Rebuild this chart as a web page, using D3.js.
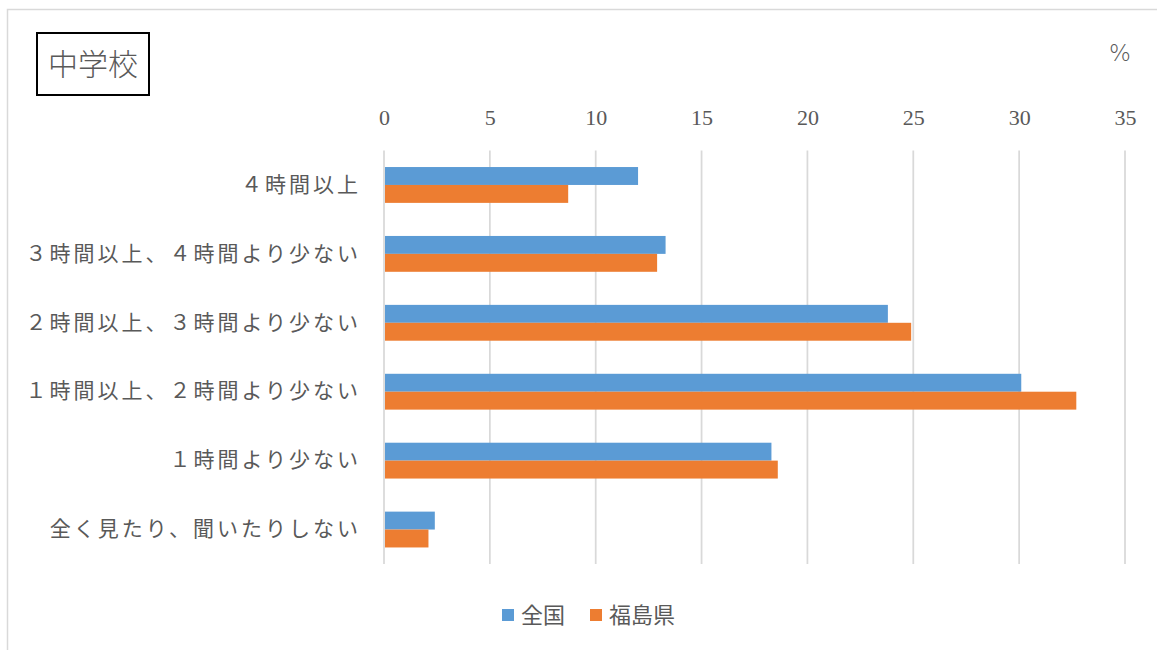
<!DOCTYPE html>
<html lang="ja">
<head>
<meta charset="utf-8">
<script src="https://cdn.jsdelivr.net/npm/d3@7"></script>
<style>
  html, body { margin: 0; padding: 0; background: #fff; }
  svg { display: block; }
  text { font-family: "Liberation Serif", "Noto Sans CJK JP", serif; fill: #595959; }
</style>
</head>
<body>
<svg id="chart" width="1157" height="650"></svg>
<script>
// 視聴時間の区分（上から順）
const categories = [
  "４時間以上",
  "３時間以上、４時間より少ない",
  "２時間以上、３時間より少ない",
  "１時間以上、２時間より少ない",
  "１時間より少ない",
  "全く見たり、聞いたりしない"
];
const seriesNames = ["全国", "福島県"];
const zenkoku = [12.0, 13.3, 23.8, 30.1, 18.3, 2.4];
const fukushima = [8.7, 12.9, 24.9, 32.7, 18.6, 2.1];
const tickValues = [0, 5, 10, 15, 20, 25, 30, 35];
const unitLabel = "%";
const titleText = "中学校";

const colors = ["#5b9bd5", "#ed7d31"];
const seriesValues = [zenkoku, fukushima];

const svg = d3.select("#chart");

// chart area frame
svg.append("rect")
  .attr("x", 7.5).attr("y", 9.5)
  .attr("width", 1170).attr("height", 660)
  .attr("fill", "none").attr("stroke", "#d9d9d9").attr("stroke-width", 1.5);

const plot = { left: 384, right: 1125, top: 150.5, bottom: 564 };

const x = d3.scaleLinear().domain([0, 35]).range([plot.left, plot.right]);
const y = d3.scaleBand().domain(categories)
  .range([plot.top, plot.bottom])
  .paddingInner(0.48).paddingOuter(0.24);
const ySub = d3.scaleBand().domain(seriesNames).range([0, y.bandwidth()]);

// vertical gridlines
svg.append("g").selectAll("line")
  .data(tickValues).join("line")
  .attr("x1", d => x(d)).attr("x2", d => x(d))
  .attr("y1", plot.top).attr("y2", plot.bottom)
  .attr("stroke", "#d9d9d9").attr("stroke-width", 1.75);

// top value axis labels
const xAxis = d3.axisTop(x).tickValues(tickValues).tickSize(0).tickPadding(0);
const gx = svg.append("g").attr("transform", "translate(0,125)").call(xAxis);
gx.select(".domain").remove();
gx.selectAll("text")
  .attr("font-size", 22)
  .attr("fill", "#595959")
  .style("font-family", '"Liberation Serif", serif')
  .attr("dy", 0);

// category axis labels (spaced out; trailing spacing offset in the translate)
const yAxis = d3.axisLeft(y).tickSize(0).tickPadding(0);
const gy = svg.append("g").attr("transform", "translate(361,0)").call(yAxis);
gy.select(".domain").remove();
gy.selectAll("text")
  .attr("font-size", 21)
  .attr("fill", "#595959")
  .style("letter-spacing", "3px")
  .style("font-family", '"Liberation Serif", "Noto Sans CJK JP", serif');

// bars
const rows = categories.map((c, i) => ({ cat: c, vals: seriesNames.map((s, j) => ({ s, v: seriesValues[j][i], c: colors[j] })) }));
const groups = svg.append("g").selectAll("g")
  .data(rows).join("g")
  .attr("transform", d => `translate(0,${y(d.cat)})`);
groups.selectAll("rect")
  .data(d => d.vals).join("rect")
  .attr("x", x(0) + 1)
  .attr("y", d => ySub(d.s))
  .attr("width", d => x(d.v) - x(0) - 1)
  .attr("height", ySub.bandwidth())
  .attr("fill", d => d.c);

// unit label
svg.append("text")
  .attr("x", 1120).attr("y", 61)
  .attr("text-anchor", "middle")
  .attr("font-size", 23)
  .style("font-family", '"DejaVu Sans", sans-serif')
  .style("font-weight", 300)
  .text(unitLabel);

// title box
svg.append("rect")
  .attr("x", 37).attr("y", 33).attr("width", 112).attr("height", 62)
  .attr("fill", "#fff").attr("stroke", "#000").attr("stroke-width", 2);
svg.append("text")
  .attr("x", 93).attr("y", 75)
  .attr("text-anchor", "middle")
  .attr("font-size", 30)
  .style("font-family", '"Noto Sans CJK JP", sans-serif')
  .style("font-weight", 300)
  .text(titleText);

// legend
const legend = svg.append("g").attr("transform", "translate(502,0)");
const legendX = [0, 88];
seriesNames.forEach((name, i) => {
  legend.append("rect")
    .attr("x", legendX[i]).attr("y", 609)
    .attr("width", 12).attr("height", 12)
    .attr("fill", colors[i]);
  legend.append("text")
    .attr("x", legendX[i] + 19).attr("y", 623)
    .attr("font-size", 22)
    .style("font-family", '"Noto Sans CJK JP", sans-serif')
    .text(name);
});
</script>
</body>
</html>
